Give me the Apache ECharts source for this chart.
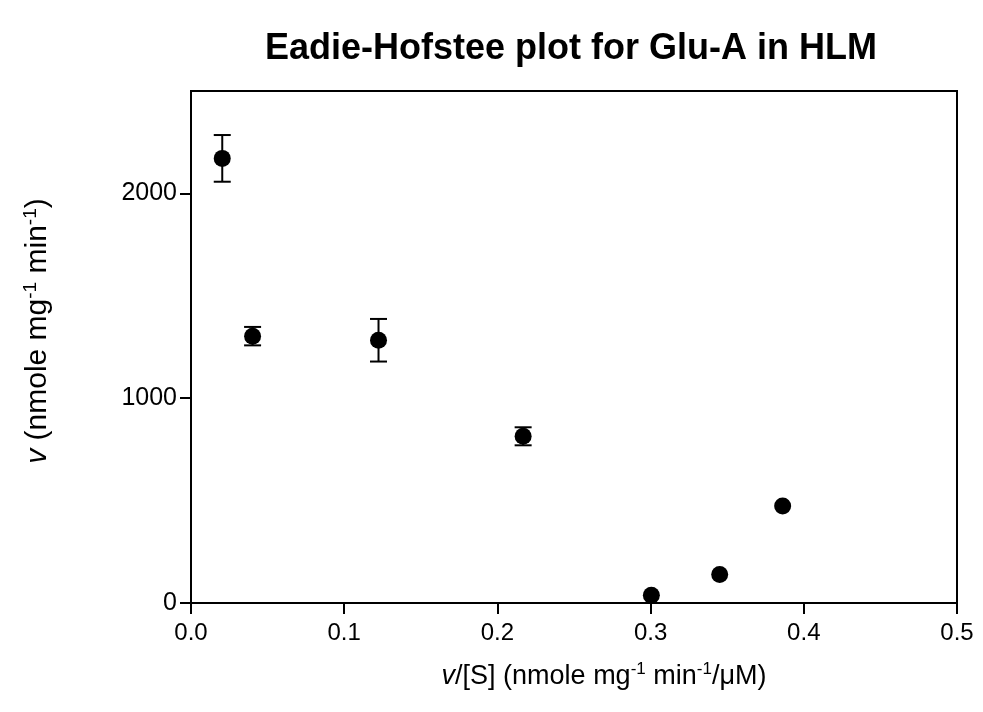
<!DOCTYPE html>
<html>
<head>
<meta charset="utf-8">
<script src="https://cdn.jsdelivr.net/npm/echarts@6/dist/echarts.min.js"></script>
<style>html,body{margin:0;padding:0;background:#fff;}#c{width:983px;height:712px;}</style>
</head>
<body>
<div id="c"></div>
<script>
// Data
var xVals = [0.0204, 0.0402, 0.1224, 0.2168, 0.3005, 0.3451, 0.3862];
var yVals = [2171, 1303, 1283, 814, 38, 139, 474];
var yErr  = [114, 45, 104, 44, 0, 0, 0];
var xTicks = [0, 0.1, 0.2, 0.3, 0.4, 0.5];
var yTicks = [0, 1000, 2000];

var FONT = '"Liberation Sans", Arial, sans-serif';
var chart = echarts.init(document.getElementById('c'), null, {renderer: 'canvas'});

var pts = xVals.map(function (x, i) { return [x, yVals[i]]; });
var errData = xVals.map(function (x, i) { return [x, yVals[i] - yErr[i], yVals[i] + yErr[i]]; });

function richSet(size) {
  return {
    i: {fontSize: size, fontFamily: FONT, color: '#000', fontStyle: 'italic'},
    n: {fontSize: size, fontFamily: FONT, color: '#000'},
    s: {fontSize: Math.round(size * 0.62), fontFamily: FONT, color: '#000', verticalAlign: 'bottom', padding: [0, 0, Math.round(size * 0.5), 0]}
  };
}

var option = {
  animation: false,
  backgroundColor: '#fff',
  title: {
    text: 'Eadie-Hofstee plot for Glu-A in HLM',
    left: 566, top: 26, textAlign: 'center',
    textStyle: {fontFamily: FONT, fontWeight: 'bold', fontSize: 36, color: '#000'}
  },
  grid: {left: 191, right: 26, top: 91, bottom: 109, show: true, borderColor: '#000', borderWidth: 2, backgroundColor: 'transparent'},
  xAxis: {
    type: 'value', min: 0, max: 0.5, interval: 0.1,
    axisLine: {show: true, onZero: false, lineStyle: {color: '#000', width: 2}},
    axisTick: {show: true, length: 11, customValues: xTicks, lineStyle: {color: '#000', width: 2}},
    splitLine: {show: false},
    axisLabel: {color: '#000', fontFamily: FONT, fontSize: 24, margin: 18, customValues: xTicks,
      formatter: function (v) { return v.toFixed(1); }},
    name: '{i|v}{n|/[S] (nmole mg}{s|-1}{n| min}{s|-1}{n|/\u03bcM)}',
    nameLocation: 'middle', nameGap: 58,
    nameTextStyle: {padding: [0, 0, 0, 60], rich: richSet(27)}
  },
  yAxis: {
    type: 'value', min: 0, max: 2500, interval: 1000,
    axisLine: {show: true, onZero: false, lineStyle: {color: '#000', width: 2}},
    axisTick: {show: true, length: 11, customValues: yTicks, lineStyle: {color: '#000', width: 2}},
    splitLine: {show: false},
    axisLabel: {color: '#000', fontFamily: FONT, fontSize: 25, margin: 14, customValues: yTicks,
      formatter: function (v) { return String(v); }},
    name: '{i|v}{n| (nmole mg}{s|-1}{n| min}{s|-1}{n|)}',
    nameLocation: 'middle', nameGap: 136,
    nameTextStyle: {padding: [0, 0, 0, 32], rich: richSet(30)}
  },
  series: [
    {
      type: 'custom',
      data: errData,
      z: 2,
      renderItem: function (params, api) {
        var x = api.value(0), lo = api.value(1), hi = api.value(2);
        if (hi === lo) return {type: 'group', children: []};
        var pLo = api.coord([x, lo]);
        var pHi = api.coord([x, hi]);
        var half = 8.5;
        var st = {stroke: '#000', lineWidth: 2, fill: null};
        return {
          type: 'group',
          children: [
            {type: 'line', shape: {x1: pLo[0], y1: pLo[1], x2: pHi[0], y2: pHi[1]}, style: st},
            {type: 'line', shape: {x1: pLo[0] - half, y1: pLo[1], x2: pLo[0] + half, y2: pLo[1]}, style: st},
            {type: 'line', shape: {x1: pHi[0] - half, y1: pHi[1], x2: pHi[0] + half, y2: pHi[1]}, style: st}
          ]
        };
      }
    },
    {
      type: 'scatter',
      data: pts,
      symbol: 'circle',
      symbolSize: 17,
      z: 3,
      itemStyle: {color: '#000', opacity: 1}
    }
  ]
};
chart.setOption(option);
</script>
</body>
</html>
